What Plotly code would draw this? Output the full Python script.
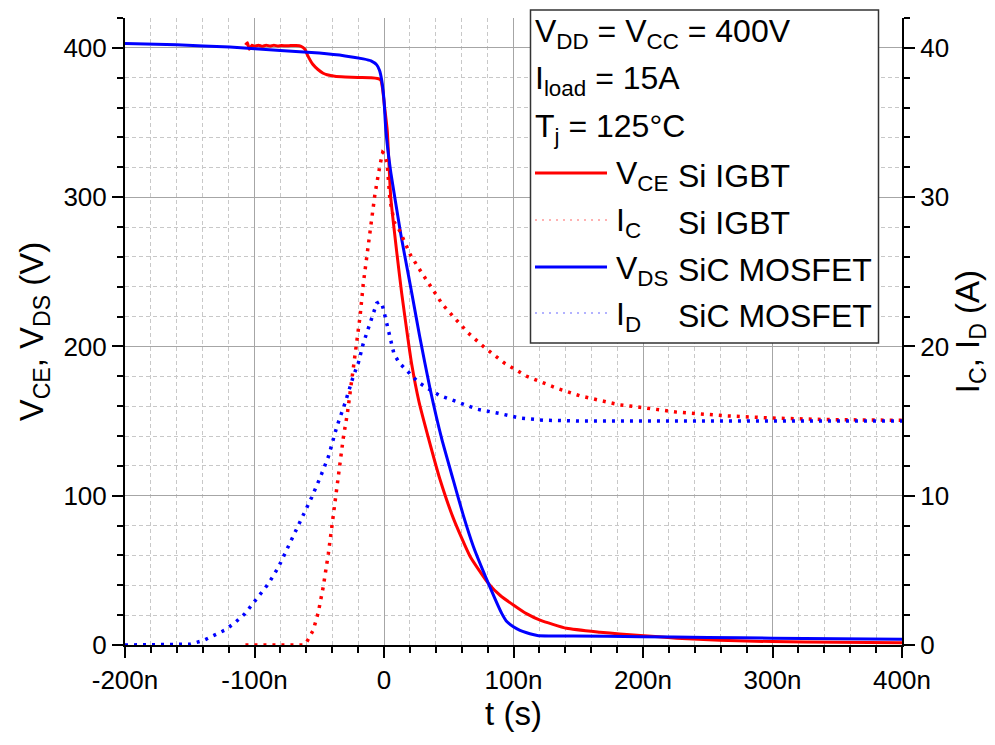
import plotly.graph_objects as go

# ---- time base in ns, x tick labels ----
x_tickvals = [-200, -100, 0, 100, 200, 300, 400]
x_ticktext = ["-200n", "-100n", "0", "100n", "200n", "300n", "400n"]

# ---- V_DS, SiC MOSFET (V) ----
t_vds = [-200, -160, -119, -80, -50, -30, -16, -10, -5.6, -3.5, -1.7, 0, 1.5, 5, 8.3,
         13, 17.5, 21.4, 27.5, 35.5, 44.6, 53.5, 61.2, 69, 80.6, 90.9, 95, 99.9, 105,
         110.2, 115, 119.2, 130, 146, 198, 250, 300, 350, 400]
v_ds = [403, 402, 400.5, 398.3, 396.5, 394.6, 392.6, 391.3, 388.6, 385, 378, 365, 344, 318, 300,
        275, 254, 236, 207, 172, 138, 110.4, 87, 66, 41.3, 21.2, 15.5, 12.2, 9.8,
        8.2, 7.0, 6.2, 6.1, 6.0, 5.6, 5.1, 4.6, 4.2, 3.8]

# ---- V_CE, Si IGBT (V) ----
t_vce = [-107, -105.5, -104, -102, -100, -97, -94, -91, -88, -85, -82, -79, -76, -72, -68,
         -64, -61, -59, -55, -51, -47, -44, -38, -30, -20, -10, -5, -2.5, -1, 0.5, 2.5,
         5.2, 10, 13.6, 18.5, 21.4, 27, 34.2, 43.2, 53.5, 66.4, 80.6, 90, 99.9, 110,
         120.5, 141, 166.8, 182, 198, 226, 259, 300, 350, 400]
v_ce = [402, 403.5, 399, 401.8, 401, 401.8, 401, 401.8, 401.2, 401.8, 401.2, 401.6, 401.4, 401.5, 401.5,
        401, 399, 395, 389, 385.5, 383, 382, 381, 380.5, 380.2, 380, 379.5, 378.5, 372, 360, 344.7,
        300, 262, 236, 205, 188, 163, 139, 111, 85, 59.5, 41.3, 33, 26.8, 21,
        16.7, 11.2, 8.6, 7.4, 6.4, 4.6, 3.1, 2.3, 1.8, 1.5]

# ---- I_C, Si IGBT (A) ----
t_ic = [-107, -62, -59.7, -54.6, -50.7, -46.9, -43, -39.6, -36.5, -34, -31.4, -28.3, -24.9,
        -21.8, -18.5, -16, -12, -7, -3, -1, 0.5, 2.5, 4.6, 8, 11.8, 16, 20.6, 28.6, 36.8,
        45.3, 55.6, 65.1, 76.7, 92.7, 110.2, 133.4, 151, 166.8, 181, 200, 226, 264.6,
        300.6, 341.7, 400]
i_c = [0, 0, 0.2, 1.0, 2.2, 3.9, 6.1, 8.4, 10.4, 12.4, 13.9, 15.5, 17.7,
       19.5, 22.0, 24.2, 27.0, 30.2, 32.2, 33.0, 32.9, 32.2, 29.8, 28.3, 27.8, 27.0, 26.1, 25.0, 23.9,
       22.8, 21.8, 20.9, 20.0, 18.9, 18.0, 17.2, 16.7, 16.4, 16.1, 15.9, 15.6, 15.35,
       15.2, 15.1, 15.05]

# ---- I_D, SiC MOSFET (A) ----
t_id = [-200, -150, -139.5, -131.8, -122.8, -115, -107.3, -98.3, -89.3, -81.6, -72.6, -63.6,
        -55.8, -49.4, -43, -36.5, -30.1, -23.7, -19.8, -16, -10.8, -5.6, -3.5, -1.8, -0.5,
        2.1, 4.6, 7.7, 11.8, 16.2, 21.4, 26.5, 35.5, 43.2, 56.1, 71.6, 89.6, 105, 123,
        151, 200, 300, 400]
i_d = [0, 0.05, 0.3, 0.6, 1.0, 1.5, 2.1, 3.1, 4.1, 5.2, 6.8, 8.4,
       9.9, 11.2, 12.6, 14.6, 16.2, 18.0, 18.9, 20.2, 21.6, 22.9, 23.0, 22.9, 22.5,
       21.6, 20.6, 19.5, 18.9, 18.5, 18.1, 17.6, 17.1, 16.7, 16.3, 15.8, 15.5, 15.2, 15.06,
       15.0, 15.0, 15.0, 15.0]

RED = "#ff0000"
BLUE = "#0000ff"
FONT = "Liberation Sans, Arial, sans-serif"
DOTS = "3px,6px"
TICK_SIZE = 26
TITLE_SIZE = 33

fig = go.Figure()
fig.add_trace(go.Scatter(x=t_ic, y=i_c, yaxis="y2", mode="lines",
                         line=dict(color=RED, width=3.5, dash=DOTS), showlegend=False))
fig.add_trace(go.Scatter(x=t_id, y=i_d, yaxis="y2", mode="lines",
                         line=dict(color=BLUE, width=3.5, dash=DOTS), showlegend=False))
fig.add_trace(go.Scatter(x=t_vce, y=v_ce, mode="lines",
                         line=dict(color=RED, width=3, shape="spline", smoothing=0.5), showlegend=False))
fig.add_trace(go.Scatter(x=t_vds, y=v_ds, mode="lines",
                         line=dict(color=BLUE, width=3, shape="spline", smoothing=0.5), showlegend=False))

grid_major = "#a6a6a6"
grid_minor = "#c8c8c8"

fig.update_layout(
    width=995, height=745,
    margin=dict(l=125, r=93, t=18, b=100),
    paper_bgcolor="white", plot_bgcolor="white",
    font=dict(family=FONT, size=TICK_SIZE, color="black"),
    xaxis=dict(
        range=[-200, 400], tickvals=x_tickvals, ticktext=x_ticktext,
        showline=True, linecolor="black", linewidth=2,
        ticks="outside", ticklen=11, tickwidth=2, tickcolor="black",
        showgrid=True, gridcolor=grid_major, gridwidth=1.3, zeroline=False,
        minor=dict(dtick=20, ticks="outside", ticklen=6, tickwidth=2, tickcolor="black",
                   showgrid=True, gridcolor=grid_minor, gridwidth=1, griddash="4px,3px"),
        title=dict(text="t (s)", font=dict(size=TITLE_SIZE), standoff=6),
        tickfont=dict(size=TICK_SIZE),
    ),
    yaxis=dict(
        range=[0, 420], tickvals=[0, 100, 200, 300, 400],
        showline=True, linecolor="black", linewidth=2,
        ticks="outside", ticklen=11, tickwidth=2, tickcolor="black",
        showgrid=True, gridcolor=grid_major, gridwidth=1.3, zeroline=False,
        minor=dict(dtick=20, ticks="outside", ticklen=6, tickwidth=2, tickcolor="black",
                   showgrid=True, gridcolor=grid_minor, gridwidth=1, griddash="4px,3px"),
        title=dict(text="V<sub>CE</sub>, V<sub>DS</sub> (V)", font=dict(size=TITLE_SIZE), standoff=10),
        tickfont=dict(size=TICK_SIZE),
    ),
    yaxis2=dict(
        range=[0, 42], tickvals=[0, 10, 20, 30, 40], overlaying="y", side="right",
        showline=True, linecolor="black", linewidth=2,
        ticks="outside", ticklen=11, tickwidth=2, tickcolor="black",
        showgrid=False, zeroline=False,
        minor=dict(dtick=2, ticks="outside", ticklen=6, tickwidth=2, tickcolor="black", showgrid=False),
        title=dict(text="I<sub>C</sub>, I<sub>D</sub> (A)", font=dict(size=TITLE_SIZE), standoff=4),
        tickfont=dict(size=TICK_SIZE),
    ),
)

# ---- legend box drawn in pixel units relative to the plot area ----
PX_L, PX_R, PX_T, PX_B = 125, 902, 18, 645


def px(x):
    return (x - PX_L) / (PX_R - PX_L)


def py(y):
    return (PX_B - y) / (PX_B - PX_T)


fig.add_shape(type="rect", xref="paper", yref="paper",
              x0=px(530.5), x1=px(878.5), y0=py(343), y1=py(10),
              line=dict(color="#333333", width=1.5), fillcolor="white", layer="above")

legend_font = dict(family=FONT, size=32, color="black")
header_lines = [
    "V<sub>DD</sub> = V<sub>CC</sub> = 400V",
    "I<sub>load</sub> = 15A",
    "T<sub>j</sub> = 125°C",
]
header_y = [34, 81, 128]
for txt, yy in zip(header_lines, header_y):
    fig.add_annotation(text=txt, xref="paper", yref="paper", x=px(533), y=py(yy),
                       xanchor="left", yanchor="middle", showarrow=False, font=legend_font)

entries = [
    ("V<sub>CE</sub>", "Si IGBT", RED, "solid", 176),
    ("I<sub>C</sub>", "Si IGBT", "rgba(255,0,0,0.3)", "2px,5px", 223),
    ("V<sub>DS</sub>", "SiC MOSFET", BLUE, "solid", 270),
    ("I<sub>D</sub>", "SiC MOSFET", "rgba(0,0,255,0.3)", "2px,5px", 316),
]
for sym, dev, col, dash, yy in entries:
    fig.add_shape(type="line", xref="paper", yref="paper",
                  x0=px(535), x1=px(607), y0=py(yy - 3), y1=py(yy - 3),
                  line=dict(color=col, width=3 if dash == "solid" else 2, dash=dash), layer="above")
    fig.add_annotation(text=sym, xref="paper", yref="paper", x=px(614), y=py(yy),
                       xanchor="left", yanchor="middle", showarrow=False, font=legend_font)
    fig.add_annotation(text=dev, xref="paper", yref="paper", x=px(676), y=py(yy),
                       xanchor="left", yanchor="middle", showarrow=False, font=legend_font)

fig.write_html("out.html")
